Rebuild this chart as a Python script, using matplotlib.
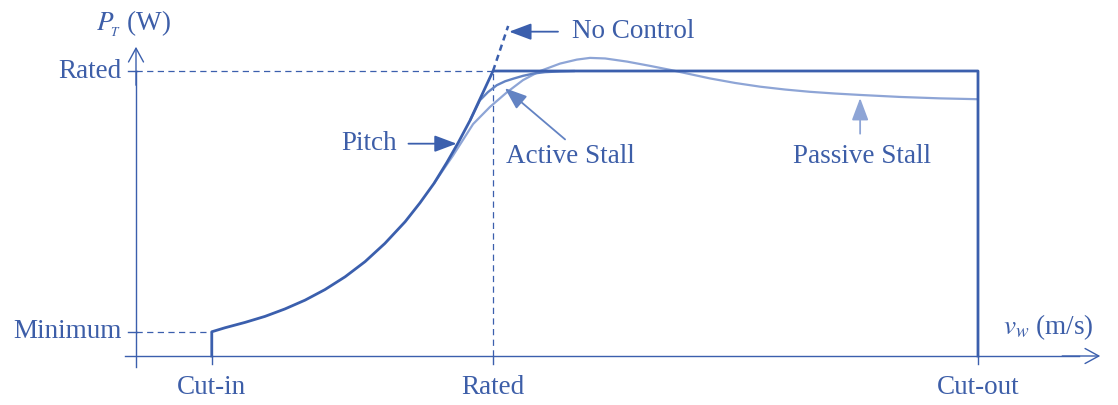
import matplotlib
matplotlib.use("Agg")
import matplotlib.pyplot as plt

# Operating points (wind speed in m/s, power in per-unit of rated power)
v_cut_in = 2.25
v_rated = 10.6
v_cut_out = 25.0
p_rated = 1.0
p_minimum = 0.085

# Pitch-controlled power curve between cut-in and rated speed
pitch_v = [2.25, 2.64, 3.24, 3.83, 4.42, 5.02, 5.61, 6.21, 6.80, 7.39, 7.99,
           8.43, 8.85, 9.23, 9.56, 9.92, 10.21, 10.6]
pitch_p = [0.085, 0.099, 0.118, 0.139, 0.165, 0.196, 0.233, 0.278, 0.331, 0.395,
           0.471, 0.537, 0.606, 0.679, 0.747, 0.827, 0.901, 1.0]

# Uncontrolled continuation above rated speed
no_control_v = [10.6, 11.05]
no_control_p = [1.0, 1.158]

# Active-stall transition onto rated power
active_v = [9.92, 10.21, 10.45, 10.71, 10.96, 11.20, 11.49, 11.80, 12.14, 12.59, 13.03]
active_p = [0.827, 0.897, 0.926, 0.950, 0.964, 0.973, 0.983, 0.991, 0.996, 0.9985, 1.0]

# Passive-stall power curve
passive_v = [8.85, 9.41, 10.01, 10.51, 11.02, 11.49, 12.00, 12.59, 13.09, 13.48,
             13.93, 14.58, 15.26, 15.86, 16.45, 17.04, 17.79, 18.53, 19.27, 20.01,
             20.75, 21.50, 22.68, 23.87, 25.0]
passive_p = [0.606, 0.703, 0.814, 0.874, 0.926, 0.968, 1.000, 1.026, 1.040, 1.046,
             1.044, 1.033, 1.018, 1.004, 0.989, 0.974, 0.958, 0.945, 0.935, 0.927,
             0.921, 0.916, 0.909, 0.904, 0.901]

x_tick_labels = ["Cut-in", "Rated", "Cut-out"]
y_tick_labels = ["Minimum", "Rated"]

DARK = "#3b5fad"
MID = "#6383c3"
LIGHT = "#8ea5d6"
TEXT = "#3d5ea8"

plt.rcParams["font.family"] = ["Liberation Serif", "DejaVu Serif"]
plt.rcParams["mathtext.fontset"] = "stix"

W, H = 1118, 405
fig = plt.figure(figsize=(W / 100, H / 100), dpi=100)
ax = fig.add_axes([0, 0, 1, 1])
# pixel layout: origin at (136, 356), 33.68 px per m/s, 285 px per unit power
sx, sy, ox, oy = 33.68, 285.0, 136.0, 356.0
ax.set_xlim(-ox / sx, (W - ox) / sx)
ax.set_ylim((oy - H) / sy, oy / sy)
ax.axis("off")

fs = 19.5
axis_lw = 1.0

# axes with arrow heads
ax.plot([0, 0], [-0.04, 1.0], color=DARK, lw=axis_lw, zorder=2)
ax.annotate("", xy=(0, 1.085), xytext=(0, 0.95),
            arrowprops=dict(arrowstyle="->,head_length=0.55,head_width=0.3",
                            color=DARK, lw=axis_lw, mutation_scale=18, shrinkA=0, shrinkB=0))
ax.plot([-0.33, 28.0], [0, 0], color=DARK, lw=axis_lw, zorder=2)
ax.annotate("", xy=(28.63, 0), xytext=(27.5, 0),
            arrowprops=dict(arrowstyle="->,head_length=0.55,head_width=0.3",
                            color=DARK, lw=axis_lw, mutation_scale=18, shrinkA=0, shrinkB=0))

# tick marks
for yv in [p_minimum, p_rated]:
    ax.plot([-0.24, 0.03], [yv, yv], color=DARK, lw=axis_lw)
for xv in [v_cut_in, v_rated, v_cut_out]:
    ax.plot([xv, xv], [0, -0.028], color=DARK, lw=axis_lw)

# dashed guides
dash = dict(color=DARK, lw=0.9, ls=(0, (5, 3.5)))
ax.plot([0, v_rated], [p_rated, p_rated], **dash)
ax.plot([v_rated, v_rated], [0, p_rated], **dash)
ax.plot([0, v_cut_in], [p_minimum, p_minimum], **dash)

# tick labels
for xv, lab in zip([v_cut_in, v_rated, v_cut_out], x_tick_labels):
    ax.text(xv, -0.11, lab, ha="center", va="center", fontsize=fs, color=TEXT)
for yv, lab in zip([p_minimum, p_rated], y_tick_labels):
    ax.text(-0.42, yv, lab, ha="right", va="center", fontsize=fs, color=TEXT)

# axis titles
ax.text(-0.06, 1.165, r"$P_{\!_T}$ (W)", ha="center", va="center", fontsize=fs, color=TEXT)
ax.text(27.1, 0.10, r"$v_w$ (m/s)", ha="center", va="center", fontsize=fs, color=TEXT)

# power curves
ax.plot(passive_v, passive_p, color=LIGHT, lw=1.6, zorder=3, solid_capstyle="butt")
ax.plot(active_v, active_p, color=MID, lw=1.7, zorder=4, solid_capstyle="butt")
ax.plot(no_control_v, no_control_p, color=DARK, lw=1.8, ls=(0, (2.5, 1.8)), zorder=5)
pitch_full_v = [v_cut_in] + pitch_v + [v_cut_out, v_cut_out]
pitch_full_p = [0] + pitch_p + [p_rated, 0]
ax.plot(pitch_full_v, pitch_full_p, color=DARK, lw=2.0, zorder=5, solid_joinstyle="round")

# annotations
head = "-|>,head_length=0.8,head_width=0.3"
ax.annotate("", xy=(11.08, 1.138), xytext=(12.53, 1.138),
            arrowprops=dict(arrowstyle=head, color=DARK, lw=1.3, mutation_scale=17,
                            shrinkA=0, shrinkB=0))
ax.text(12.95, 1.138, "No Control", ha="left", va="center", fontsize=fs, color=TEXT)

ax.annotate("", xy=(9.52, 0.745), xytext=(8.09, 0.745),
            arrowprops=dict(arrowstyle=head, color=DARK, lw=1.3, mutation_scale=17,
                            shrinkA=0, shrinkB=0))
ax.text(6.92, 0.745, "Pitch", ha="center", va="center", fontsize=fs, color=TEXT)

ax.annotate("", xy=(10.95, 0.94), xytext=(12.74, 0.76),
            arrowprops=dict(arrowstyle=head, color=MID, lw=1.3, mutation_scale=17,
                            shrinkA=0, shrinkB=0))
ax.text(12.89, 0.70, "Active Stall", ha="center", va="center", fontsize=fs, color=TEXT)

ax.annotate("", xy=(21.5, 0.905), xytext=(21.5, 0.78),
            arrowprops=dict(arrowstyle=head, color=LIGHT, lw=1.3, mutation_scale=17,
                            shrinkA=0, shrinkB=0))
ax.text(21.56, 0.70, "Passive Stall", ha="center", va="center", fontsize=fs, color=TEXT)

fig.savefig("out.png", dpi=100, facecolor="white")
